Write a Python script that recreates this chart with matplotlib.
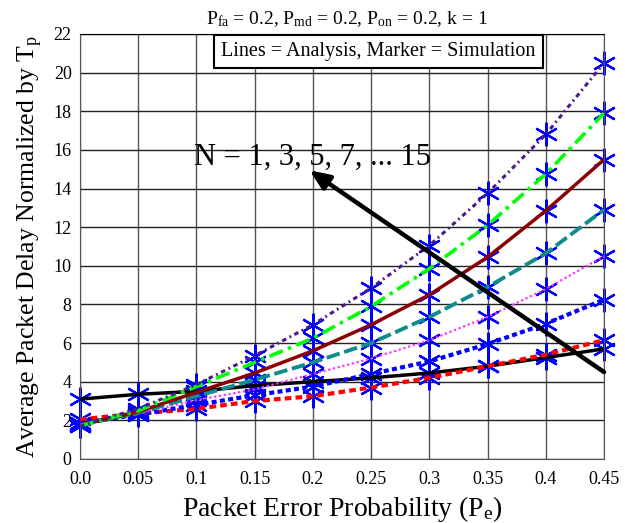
import matplotlib
matplotlib.use("Agg")
import matplotlib.pyplot as plt

plt.rcParams['font.family'] = ['Liberation Serif', 'DejaVu Serif']
plt.rcParams['mathtext.fontset'] = 'custom'
plt.rcParams['mathtext.rm'] = 'Liberation Serif'
plt.rcParams['mathtext.it'] = 'Liberation Serif:italic'

pe = [0.0, 0.05, 0.1, 0.15, 0.2, 0.25, 0.3, 0.35, 0.4, 0.45]
x_tick_labels = ['0.0', '0.05', '0.1', '0.15', '0.2', '0.25', '0.3', '0.35', '0.4', '0.45']
y_ticks = [0, 2, 4, 6, 8, 10, 12, 14, 16, 18, 20, 22]

n1 = [3.1, 3.35, 3.5, 3.8, 4.0, 4.2, 4.45, 4.8, 5.25, 5.7]
n3 = [2.05, 2.35, 2.6, 3.0, 3.25, 3.7, 4.2, 4.8, 5.4, 6.15]
n5 = [1.85, 2.3, 2.8, 3.3, 3.75, 4.4, 5.05, 5.95, 7.0, 8.25]
n7 = [1.8, 2.35, 3.05, 3.6, 4.4, 5.2, 6.15, 7.35, 8.8, 10.5]
n9 = [1.75, 2.4, 3.25, 4.1, 5.0, 6.0, 7.35, 8.9, 10.65, 12.9]
n11 = [1.75, 2.45, 3.45, 4.45, 5.6, 6.95, 8.5, 10.45, 12.85, 15.5]
n13 = [1.72, 2.5, 3.75, 5.0, 6.25, 7.9, 9.85, 12.1, 14.75, 17.9]
n15 = [1.7, 2.6, 3.85, 5.35, 6.95, 8.85, 11.05, 13.75, 16.8, 20.5]

series = [n1, n3, n5, n7, n9, n11, n13, n15]
styles = [
    dict(color='black', lw=2.5, ls='-'),
    dict(color='#ff0000', lw=3.0, ls=(0, (1.6, 1.0))),
    dict(color='#0000ff', lw=3.0, ls=(0, (1.2, 0.8))),
    dict(color='#ff33ff', lw=1.6, ls=(0, (1, 1.2))),
    dict(color='#108c8c', lw=2.8, ls=(0, (3.5, 1.2))),
    dict(color='#8b0000', lw=2.5, ls='-'),
    dict(color='#00ff00', lw=2.6, ls=(0, (4, 1.5, 1, 1.5))),
    dict(color='#4b1a8b', lw=2.2, ls=(0, (1.5, 1.2, 0.6, 1.2))),
]

fig = plt.figure(figsize=(6.25, 5.23), dpi=100)
ax = fig.add_axes([0.128, 0.1224, 0.8384, 0.8126])

for ys in series:
    ax.plot(pe, ys, ls='none', marker=(6, 2, 0), ms=17, mec='#0000ff',
            mew=1.6, zorder=2, clip_on=False)
for ys, st in zip(series, styles):
    ax.plot(pe, ys, zorder=3, **st)

ax.set_xlim(0, 0.45)
ax.set_ylim(0, 22)
ax.set_xticks(pe)
ax.set_xticklabels(x_tick_labels)
ax.set_yticks(y_ticks)
ax.tick_params(length=0, labelsize=13, pad=6)
ax.tick_params(axis='x', pad=9)
ax.grid(True, color='#555555', lw=1.0)
ax.yaxis.grid(True, color='#222222', lw=1.0)
for s in ax.spines.values():
    s.set_color('#555555')
ax.spines['top'].set_color('black')

ax.set_xlabel(r'Packet Error Probability (P$_{\rm e}$)', fontsize=20, labelpad=4)
ax.set_ylabel(r'Average Packet Delay Normalized by T$_{\rm p}$', fontsize=18.5, labelpad=6)

fig.text(0.555, 0.963, r'P$_{\rm fa}$ = 0.2, P$_{\rm md}$ = 0.2, P$_{\rm on}$ = 0.2, k = 1',
         ha='center', va='center', fontsize=14)

ax.text(0.57, 0.958, 'Lines = Analysis, Marker = Simulation', transform=ax.transAxes,
        ha='center', va='center', fontsize=14.5, zorder=10,
        bbox=dict(boxstyle='square,pad=0.35', fc='white', ec='black', lw=1.5))

ax.annotate('', xy=(0.197, 14.95), xytext=(0.45, 4.5),
            arrowprops=dict(arrowstyle='-|>,head_length=1.2,head_width=0.5',
                            color='black', lw=3.2, shrinkA=0, shrinkB=0), zorder=6)
ax.text(0.0975, 15.6, 'N = 1, 3, 5, 7, ... 15', fontsize=22, ha='left', va='center', zorder=7)

fig.savefig('out.png', dpi=100)
